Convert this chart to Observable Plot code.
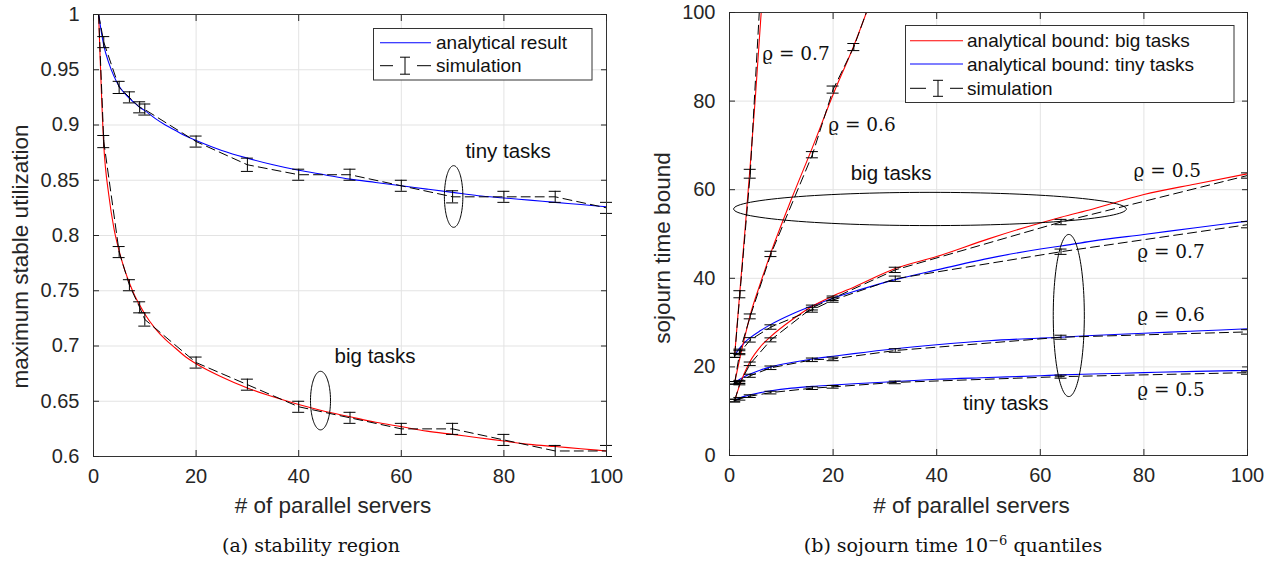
<!DOCTYPE html>
<html><head><meta charset="utf-8">
<script src="https://cdn.jsdelivr.net/npm/d3@7"></script>
<script src="https://cdn.jsdelivr.net/npm/@observablehq/plot@0.6"></script>
<style>
body{margin:0;background:#fff;}
#fig{position:relative;width:1275px;height:563px;overflow:hidden;background:#fff;}
#fig svg.panel{position:absolute;top:0;}
.cap{position:absolute;top:533px;font-family:"DejaVu Serif",serif;font-size:19px;line-height:24px;transform:translateX(-50%);white-space:nowrap;color:#111;}
.cap sup{font-size:13px;vertical-align:7px;line-height:0;}
</style></head><body><div id="fig"></div>
<script>
// ---------- Panel (a): stability region ----------
const xTicksA = [0, 20, 40, 60, 80, 100];
const xTickLabelsA = ["0", "20", "40", "60", "80", "100"];
const yTicksA = [0.6, 0.65, 0.7, 0.75, 0.8, 0.85, 0.9, 0.95, 1];
const yTickLabelsA = ["0.6", "0.65", "0.7", "0.75", "0.8", "0.85", "0.9", "0.95", "1"];

// analytical curves (servers -> max stable utilization)
const gridA = [1,2,3,4,5,6,7,8,9,10,12,14,16,18,20,25,30,35,40,45,50,55,60,65,70,75,80,85,90,95,100];
const analyticTinyA = [1.0,0.972,0.956,0.944,0.935,0.929,0.924,0.920,0.916,0.913,0.906,0.900,0.895,0.890,0.886,0.877,0.870,0.864,0.859,0.855,0.851,0.848,0.845,0.842,0.839,0.836,0.834,0.832,0.830,0.828,0.826];
const analyticBigA = [1.0,0.882,0.836,0.806,0.786,0.770,0.757,0.746,0.737,0.729,0.716,0.706,0.698,0.690,0.684,0.672,0.662,0.654,0.647,0.641,0.636,0.631,0.627,0.623,0.620,0.617,0.614,0.611,0.609,0.607,0.605];

// simulation with error bars
const serversA = [1,2,5,7,9,10,20,30,40,50,60,70,80,90,100];
const simTinyA = [1.0,0.975,0.934,0.925,0.916,0.914,0.885,0.864,0.855,0.855,0.845,0.835,0.835,0.835,0.825];
const errTinyA = [0,0.005,0.0055,0.005,0.005,0.005,0.005,0.006,0.005,0.005,0.005,0.0055,0.005,0.005,0.005];
const simBigA = [1.0,0.885,0.785,0.755,0.735,0.724,0.685,0.665,0.645,0.635,0.625,0.625,0.615,0.605,0.605];
const errBigA = [0,0.0055,0.005,0.005,0.005,0.006,0.005,0.005,0.005,0.005,0.005,0.005,0.005,0.005,0.005];

// ---------- Panel (b): sojourn time quantiles ----------
const xTicksB = [0, 20, 40, 60, 80, 100];
const xTickLabelsB = ["0", "20", "40", "60", "80", "100"];
const yTicksB = [0, 20, 40, 60, 80, 100];
const yTickLabelsB = ["0", "20", "40", "60", "80", "100"];

const gridB = [1,2,3,4,6,8,12,16,20,24,32,40,50,60,64,70,80,90,100];
const tiny05 = [12.4,13.0,13.4,13.7,14.2,14.6,15.2,15.6,15.9,16.2,16.7,17.2,17.6,18.0,18.2,18.4,18.7,19.0,19.2];
const tiny06 = [16.4,17.2,17.9,18.4,19.3,20.0,21.0,21.8,22.4,23.0,24.1,25.0,25.9,26.5,26.7,27.1,27.6,28.1,28.6];
const tiny07 = [22.7,24.3,25.6,26.6,28.2,29.6,31.9,33.8,35.5,37.0,39.7,41.9,44.5,46.6,47.3,48.4,49.9,51.4,52.9];
const big05 = [12.4,16.0,18.9,21.3,24.6,26.9,30.6,33.7,36.0,38.0,42.2,44.9,48.9,52.5,53.8,55.6,58.9,61.3,63.6];
const gridBig06 = [1,2,3,4,6,8,12,16,20,24,28];
const big06 = [16.4,22.0,27.0,31.7,39.0,45.8,58.0,69.5,81.5,92.5,105];
const gridBig07 = [1,2,3,4,5,6,7];
const big07 = [22.7,37.0,51.0,65.5,81.0,98.0,115];

const serversB = [1,2,4,8,16,20,32,64,100];
const simTiny05 = [12.4,12.8,13.4,14.2,15.2,15.5,16.5,17.8,18.7];
const errTiny05 = [0.3,0.3,0.3,0.3,0.3,0.3,0.3,0.35,0.35];
const simTiny06 = [16.4,16.6,18.0,19.8,21.6,21.8,23.7,26.7,27.9];
const errTiny06 = [0.3,0.35,0.35,0.4,0.4,0.4,0.4,0.45,0.5];
const simTiny07 = [22.6,23.2,26.1,29.0,32.9,35.1,39.9,46.0,52.1];
const errTiny07 = [0.45,0.45,0.5,0.5,0.55,0.5,0.6,0.6,0.7];
const simBig05 = [12.4,16.3,20.7,26.1,33.4,35.5,41.9,52.7,63.2];
const errBig05 = [0.3,0.35,0.4,0.45,0.55,0.5,0.6,0.6,0.6];
const serversBig06 = [1,2,4,8,16,20,24,32];
const simBig06 = [16.4,23.5,31.4,45.5,67.9,82.6,92.2,118];
const errBig06 = [0.3,0.5,0.55,0.6,0.7,0.8,0.8,1.0];
const serversBig07 = [1,2,4,8];
const simBig07 = [22.6,36.4,63.6,147];
const errBig07 = [0.45,0.8,1.0,1.2];

// ---------- text ----------
const xLabel = "# of parallel servers";
const yLabelA = "maximum stable utilization";
const yLabelB = "sojourn time bound";
const legendA = ["analytical result", "simulation"];
const legendB = ["analytical bound: big tasks", "analytical bound: tiny tasks", "simulation"];

// annotation placements (data coordinates)
const notesA = [{x: 72.5, y: 0.876, t: "tiny tasks"}, {x: 47.0, y: 0.691, t: "big tasks"}];
const ellipsesA = [{cx: 70.2, cy: 0.8353, rx: 1.8, ry: 0.0279}, {cx: 44.25, cy: 0.6506, rx: 1.95, ry: 0.0265}];
const notesB = [{x: 23.4, y: 63.6, t: "big tasks"}, {x: 45.1, y: 11.7, t: "tiny tasks"}];
const rhoNotesB = [
  {x: 6.3, y: 90.7, t: "ϱ = 0.7"}, {x: 19.05, y: 74.5, t: "ϱ = 0.6"},
  {x: 78.0, y: 64.3, t: "ϱ = 0.5"}, {x: 78.7, y: 46.0, t: "ϱ = 0.7"},
  {x: 78.7, y: 31.8, t: "ϱ = 0.6"}, {x: 78.7, y: 14.7, t: "ϱ = 0.5"}
];
const ellipsesB = [{cx: 38.7, cy: 55.65, rx: 37.9, ry: 3.75}, {cx: 65.5, cy: 31.6, rx: 3.0, ry: 18.3}];

// ---------- helpers ----------
const SANS = '"Liberation Sans", Arial, Helvetica, sans-serif';
const SERIF = '"DejaVu Serif", "Liberation Serif", serif';
const DASH = "9,5";
const rows = (xs, ys) => xs.map((x, i) => ({x, y: ys[i]}));
function ellipse(e) {
  const pts = [];
  for (let k = 0; k < 120; k++) {
    const t = 2 * Math.PI * k / 120;
    pts.push({x: e.cx + e.rx * Math.cos(t), y: e.cy + e.ry * Math.sin(t)});
  }
  return pts;
}
function errorBars(xs, ys, es, clip) {
  const r = xs.map((x, i) => ({x, lo: ys[i] - es[i], hi: ys[i] + es[i], e: es[i]})).filter(d => d.e > 0);
  const s = {stroke: "black", strokeWidth: 1, clip};
  return [
    Plot.ruleX(r, {x: "x", y1: "lo", y2: "hi", ...s}),
    Plot.ruleY(r, {y: "lo", x1: "x", x2: "x", insetLeft: -6, insetRight: -6, ...s}),
    Plot.ruleY(r, {y: "hi", x1: "x", x2: "x", insetLeft: -6, insetRight: -6, ...s})
  ];
}
function axes(xt, xl, yt, yl) {
  const fx = new Map(xt.map((v, i) => [v, xl[i]]));
  const fy = new Map(yt.map((v, i) => [v, yl[i]]));
  const c = "#262626";
  return [
    Plot.axisX(xt, {anchor: "bottom", tickSize: -6, tickPadding: 18, tickFormat: d => fx.get(d), label: null, fontSize: 20, stroke: c, fill: c}),
    Plot.axisX(xt, {anchor: "top", tickSize: -6, tickFormat: () => "", label: null, stroke: c}),
    Plot.axisY(yt, {anchor: "left", tickSize: -6, tickPadding: 20, tickFormat: d => fy.get(d), label: null, fontSize: 20, stroke: c, fill: c}),
    Plot.axisY(yt, {anchor: "right", tickSize: -6, tickFormat: () => "", label: null, stroke: c})
  ];
}
const labelStyle = {text: d => d, textAnchor: "middle", lineAnchor: "middle", fontSize: 22.5, fill: "#262626"};

// ---------- panel (a) ----------
const plotA = Plot.plot({
  width: 640, height: 520,
  marginLeft: 93, marginRight: 34, marginTop: 14, marginBottom: 64,
  x: {type: "linear", domain: [0, 100]},
  y: {type: "linear", domain: [0.6, 1]},
  style: {fontFamily: SANS, fontSize: "20px", color: "#262626", background: "transparent", overflow: "visible"},
  marks: [
    Plot.gridX(xTicksA, {stroke: "#e3e3e3", strokeOpacity: 1}),
    Plot.gridY(yTicksA, {stroke: "#e3e3e3", strokeOpacity: 1}),
    Plot.line(rows(gridA, analyticBigA), {x: "x", y: "y", stroke: "#ff0000", strokeWidth: 1.1, curve: "monotone-x"}),
    Plot.line(rows(gridA, analyticTinyA), {x: "x", y: "y", stroke: "#0000ff", strokeWidth: 1.1, curve: "monotone-x"}),
    Plot.line(rows(serversA, simBigA), {x: "x", y: "y", stroke: "black", strokeWidth: 1, strokeDasharray: DASH}),
    Plot.line(rows(serversA, simTinyA), {x: "x", y: "y", stroke: "black", strokeWidth: 1, strokeDasharray: DASH}),
    ...errorBars(serversA, simBigA, errBigA, false),
    ...errorBars(serversA, simTinyA, errTinyA, false),
    ...ellipsesA.map(e => Plot.line(ellipse(e), {x: "x", y: "y", stroke: "black", strokeWidth: 1, curve: "linear-closed"})),
    Plot.text(notesA, {x: "x", y: "y", text: "t", textAnchor: "start", fontSize: 20.5, fill: "#111"}),
    Plot.frame({stroke: "#333", strokeWidth: 1}),
    ...axes(xTicksA, xTickLabelsA, yTicksA, yTickLabelsA),
    Plot.text([xLabel], {...labelStyle, frameAnchor: "bottom", dy: 49, dx: -17}),
    Plot.text([yLabelA], {...labelStyle, frameAnchor: "left", dx: -73, dy: 21, rotate: -90})
  ]
});
plotA.classList.add("panel");
plotA.style.left = "0px";

// ---------- panel (b) ----------
const plotB = Plot.plot({
  width: 635, height: 520,
  marginLeft: 89, marginRight: 28, marginTop: 12, marginBottom: 65,
  x: {type: "linear", domain: [0, 100]},
  y: {type: "linear", domain: [0, 100]},
  style: {fontFamily: SANS, fontSize: "20px", color: "#262626", background: "transparent", overflow: "visible"},
  marks: [
    Plot.gridX(xTicksB, {stroke: "#e3e3e3", strokeOpacity: 1}),
    Plot.gridY(yTicksB, {stroke: "#e3e3e3", strokeOpacity: 1}),
    Plot.line(rows(gridB, tiny05), {x: "x", y: "y", stroke: "#0000ff", strokeWidth: 1.1, curve: "monotone-x"}),
    Plot.line(rows(gridB, tiny06), {x: "x", y: "y", stroke: "#0000ff", strokeWidth: 1.1, curve: "monotone-x"}),
    Plot.line(rows(gridB, tiny07), {x: "x", y: "y", stroke: "#0000ff", strokeWidth: 1.1, curve: "monotone-x"}),
    Plot.line(rows(gridB, big05), {x: "x", y: "y", stroke: "#ff0000", strokeWidth: 1.1, curve: "monotone-x"}),
    Plot.line(rows(gridBig06, big06), {x: "x", y: "y", stroke: "#ff0000", strokeWidth: 1.1, curve: "monotone-x", clip: true}),
    Plot.line(rows(gridBig07, big07), {x: "x", y: "y", stroke: "#ff0000", strokeWidth: 1.1, curve: "monotone-x", clip: true}),
    Plot.line(rows(serversB, simTiny05), {x: "x", y: "y", stroke: "black", strokeWidth: 1, strokeDasharray: DASH}),
    Plot.line(rows(serversB, simTiny06), {x: "x", y: "y", stroke: "black", strokeWidth: 1, strokeDasharray: DASH}),
    Plot.line(rows(serversB, simTiny07), {x: "x", y: "y", stroke: "black", strokeWidth: 1, strokeDasharray: DASH}),
    Plot.line(rows(serversB, simBig05), {x: "x", y: "y", stroke: "black", strokeWidth: 1, strokeDasharray: DASH}),
    Plot.line(rows(serversBig06, simBig06), {x: "x", y: "y", stroke: "black", strokeWidth: 1, strokeDasharray: DASH, clip: true}),
    Plot.line(rows(serversBig07, simBig07), {x: "x", y: "y", stroke: "black", strokeWidth: 1, strokeDasharray: DASH, clip: true}),
    ...errorBars(serversB, simTiny05, errTiny05, true),
    ...errorBars(serversB, simTiny06, errTiny06, true),
    ...errorBars(serversB, simTiny07, errTiny07, true),
    ...errorBars(serversB, simBig05, errBig05, true),
    ...errorBars(serversBig06, simBig06, errBig06, true),
    ...errorBars(serversBig07, simBig07, errBig07, true),
    ...ellipsesB.map(e => Plot.line(ellipse(e), {x: "x", y: "y", stroke: "black", strokeWidth: 1, curve: "linear-closed"})),
    Plot.text(notesB, {x: "x", y: "y", text: "t", textAnchor: "start", fontSize: 20.5, fill: "#111"}),
    Plot.text(rhoNotesB, {x: "x", y: "y", text: "t", textAnchor: "start", fontSize: 18.5, fontFamily: SERIF, fill: "#111"}),
    Plot.frame({stroke: "#333", strokeWidth: 1}),
    ...axes(xTicksB, xTickLabelsB, yTicksB, yTickLabelsB),
    Plot.text([xLabel], {...labelStyle, frameAnchor: "bottom", dy: 50, dx: -17}),
    Plot.text([yLabelB], {...labelStyle, frameAnchor: "left", dx: -67, dy: 14, rotate: -90})
  ]
});
plotB.classList.add("panel");
plotB.style.left = "640px";

const fig = document.getElementById("fig");
fig.appendChild(plotA);
fig.appendChild(plotB);

// ---------- legends ----------
const NS = "http://www.w3.org/2000/svg";
const leg = document.createElementNS(NS, "svg");
leg.setAttribute("width", 1275); leg.setAttribute("height", 563);
leg.style.position = "absolute"; leg.style.left = "0px"; leg.style.top = "0px";
leg.style.fontFamily = SANS;
function el(tag, attrs, text) {
  const e = document.createElementNS(NS, tag);
  for (const k in attrs) e.setAttribute(k, attrs[k]);
  if (text) e.textContent = text;
  leg.appendChild(e);
  return e;
}
function simGlyph(x1, x2, xm, y, h, c) {
  el("line", {x1, x2: xm - 12, y1: y, y2: y, stroke: "black", "stroke-width": 1});
  el("line", {x1: xm + 12, x2, y1: y, y2: y, stroke: "black", "stroke-width": 1});
  el("line", {x1: xm, x2: xm, y1: y - h, y2: y + h, stroke: "black", "stroke-width": 1});
  el("line", {x1: xm - c, x2: xm + c, y1: y - h, y2: y - h, stroke: "black", "stroke-width": 1});
  el("line", {x1: xm - c, x2: xm + c, y1: y + h, y2: y + h, stroke: "black", "stroke-width": 1});
}
// legend (a)
el("rect", {x: 373.5, y: 28.5, width: 218.5, height: 51.5, fill: "white", stroke: "#333", "stroke-width": 1});
el("line", {x1: 380, x2: 431, y1: 42.7, y2: 42.7, stroke: "#0000ff", "stroke-width": 1.1});
el("text", {x: 436, y: 42.7, "dominant-baseline": "central", "font-size": 19, fill: "#111"}, legendA[0]);
simGlyph(380, 431, 405, 65.7, 8.5, 5);
el("text", {x: 436, y: 65.7, "dominant-baseline": "central", "font-size": 19, fill: "#111"}, legendA[1]);
// legend (b)
el("rect", {x: 905.5, y: 25.5, width: 328.5, height: 77, fill: "white", stroke: "#333", "stroke-width": 1});
el("line", {x1: 910, x2: 963, y1: 40.7, y2: 40.7, stroke: "#ff0000", "stroke-width": 1.1});
el("text", {x: 967, y: 40.7, "dominant-baseline": "central", "font-size": 19, fill: "#111"}, legendB[0]);
el("line", {x1: 910, x2: 963, y1: 64, y2: 64, stroke: "#0000ff", "stroke-width": 1.1});
el("text", {x: 967, y: 64, "dominant-baseline": "central", "font-size": 19, fill: "#111"}, legendB[1]);
simGlyph(910, 963, 938, 88.3, 8, 5);
el("text", {x: 967, y: 88.3, "dominant-baseline": "central", "font-size": 19, fill: "#111"}, legendB[2]);
fig.appendChild(leg);

// ---------- captions ----------
const capA = document.createElement("div");
capA.className = "cap"; capA.style.left = "311px";
capA.textContent = "(a) stability region";
fig.appendChild(capA);
const capB = document.createElement("div");
capB.className = "cap"; capB.style.left = "953px";
capB.innerHTML = "(b) sojourn time 10<sup>−6</sup> quantiles";
fig.appendChild(capB);
</script>
</body></html>
